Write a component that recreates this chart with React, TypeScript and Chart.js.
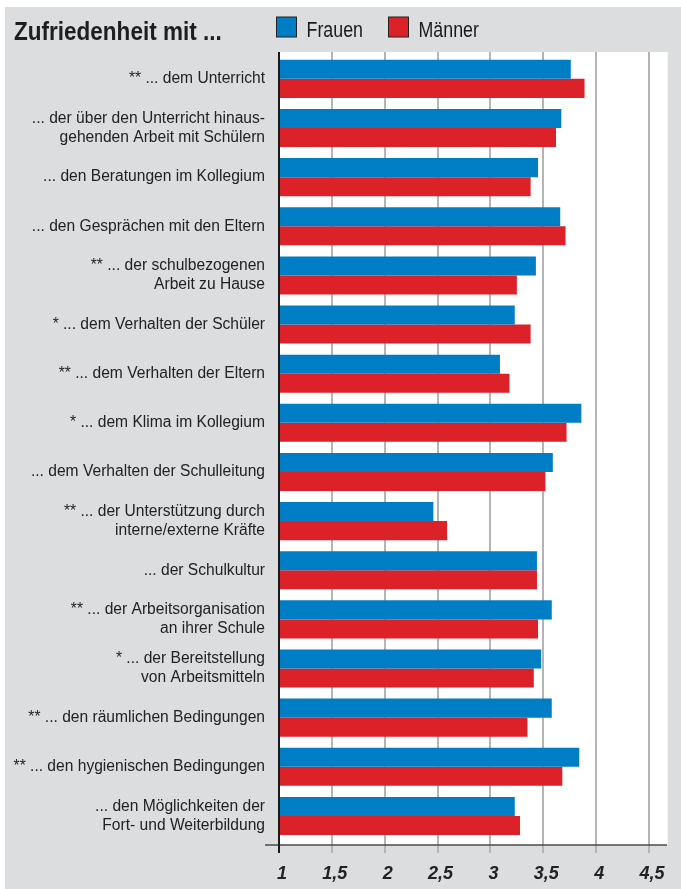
import { useEffect, useRef } from "react";
import { Chart, registerables } from "chart.js";

Chart.register(...registerables);

const TITLE = "Zufriedenheit mit ...";
const SERIES_NAMES = ["Frauen", "Männer"];
const SERIES_COLORS = ["#007ec5", "#dc2129"];

const categories: (string | string[])[] = [
  "** ... dem Unterricht",
  ["... der über den Unterricht hinaus-", "gehenden Arbeit mit Schülern"],
  "... den Beratungen im Kollegium",
  "... den Gesprächen mit den Eltern",
  ["** ... der schulbezogenen", "Arbeit zu Hause"],
  "* ... dem Verhalten der Schüler",
  "** ... dem Verhalten der Eltern",
  "* ... dem Klima im Kollegium",
  "... dem Verhalten der Schulleitung",
  ["** ... der Unterstützung durch", "interne/externe Kräfte"],
  "... der Schulkultur",
  ["** ... der Arbeitsorganisation", "an ihrer Schule"],
  ["* ... der Bereitstellung", "von Arbeitsmitteln"],
  "** ... den räumlichen Bedingungen",
  "** ... den hygienischen Bedingungen",
  ["... den Möglichkeiten der", "Fort- und Weiterbildung"],
];

const frauen = [3.76, 3.67, 3.45, 3.66, 3.43, 3.23, 3.09, 3.86, 3.59, 2.46, 3.44, 3.58, 3.48, 3.58, 3.84, 3.23];
const maenner = [3.89, 3.62, 3.38, 3.71, 3.25, 3.38, 3.18, 3.72, 3.52, 2.59, 3.44, 3.45, 3.41, 3.35, 3.68, 3.28];

const xTicks = [1, 1.5, 2, 2.5, 3, 3.5, 4, 4.5];
const X_MIN = 1;
const X_MAX = 4.67;

const FONT = "'Liberation Sans', Arial, sans-serif";

const decorPlugin = {
  id: "decor",
  beforeDraw(chart: any) {
    const { ctx, chartArea: ca, width, height } = chart;
    const plotTop = ca.top - 2.3;
    const plotBottom = ca.bottom + 4.5;
    ctx.save();
    ctx.fillStyle = "#ffffff";
    ctx.fillRect(0, 0, width, height);
    ctx.fillStyle = "#dcdddf";
    ctx.fillRect(5, 7, width - 5, height - 7);
    ctx.fillStyle = "#ffffff";
    ctx.fillRect(ca.left, plotTop, ca.right - ca.left + 0.7, plotBottom - plotTop);
    ctx.restore();
  },
  beforeDatasetsDraw(chart: any) {
    const { ctx, chartArea: ca } = chart;
    const xs = chart.scales.x;
    const plotTop = ca.top - 2.3;
    const plotBottom = ca.bottom + 4.5;
    ctx.save();
    ctx.strokeStyle = "#b4b4b4";
    ctx.lineWidth = 2;
    xs.ticks.forEach((t: any) => {
      const x = Math.round(xs.getPixelForValue(t.value));
      ctx.beginPath();
      ctx.moveTo(x, plotTop);
      ctx.lineTo(x, plotBottom + 8);
      ctx.stroke();
    });
    ctx.restore();
  },
  afterDatasetsDraw(chart: any) {
    const { ctx, chartArea: ca } = chart;
    const xs = chart.scales.x;
    const plotTop = ca.top - 2.3;
    const plotBottom = ca.bottom + 4.5;
    const x0 = Math.round(xs.getPixelForValue(X_MIN));
    ctx.save();
    ctx.strokeStyle = "#4a4a4a";
    ctx.lineWidth = 1.5;
    ctx.beginPath();
    ctx.moveTo(ca.left - 14, plotBottom);
    ctx.lineTo(ca.right, plotBottom);
    ctx.stroke();
    ctx.strokeStyle = "#1a1a1a";
    ctx.lineWidth = 2;
    ctx.beginPath();
    ctx.moveTo(x0, plotTop);
    ctx.lineTo(x0, plotBottom + 8);
    ctx.stroke();
    ctx.restore();
  },
  afterDraw(chart: any) {
    const { ctx } = chart;
    ctx.save();
    ctx.fillStyle = "#1e1e1e";
    ctx.textBaseline = "alphabetic";
    ctx.textAlign = "left";
    // Title
    ctx.save();
    ctx.translate(14, 40);
    ctx.scale(0.85, 1);
    ctx.font = `bold 26.5px ${FONT}`;
    ctx.fillText(TITLE, 0, 0);
    ctx.restore();
    // Legend
    const items = chart.data.datasets.map((d: any) => ({ label: d.label, color: d.backgroundColor }));
    const boxX = [276.5, 388.5];
    items.forEach((it: any, i: number) => {
      const bx = boxX[i];
      ctx.fillStyle = it.color;
      ctx.fillRect(bx, 17, 20, 20);
      ctx.strokeStyle = "#222";
      ctx.lineWidth = 1;
      ctx.strokeRect(bx, 17, 20, 20);
      ctx.save();
      ctx.translate(bx + 30, 36.7);
      ctx.scale(0.81, 1);
      ctx.fillStyle = "#1a1a1a";
      ctx.font = `22px ${FONT}`;
      ctx.fillText(it.label, 0, 0);
      ctx.restore();
    });
    ctx.restore();
  },
};

export default function App() {
  const ref = useRef<HTMLCanvasElement | null>(null);
  useEffect(() => {
    if (!ref.current) return;
    const chart = new Chart(ref.current, {
      type: "bar",
      data: {
        labels: categories,
        datasets: [
          {
            label: SERIES_NAMES[0],
            data: frauen,
            backgroundColor: SERIES_COLORS[0],
            borderWidth: 0,
            barPercentage: 1,
            categoryPercentage: 0.775,
          },
          {
            label: SERIES_NAMES[1],
            data: maenner,
            backgroundColor: SERIES_COLORS[1],
            borderWidth: 0,
            barPercentage: 1,
            categoryPercentage: 0.775,
          },
        ],
      },
      options: {
        indexAxis: "y",
        animation: false,
        responsive: false,
        devicePixelRatio: 1,
        layout: { padding: { top: 54.3, right: 14, left: 0, bottom: 0 } },
        plugins: {
          legend: { display: false },
          tooltip: { enabled: false },
          title: { display: false },
        },
        scales: {
          x: {
            type: "linear",
            min: X_MIN,
            max: X_MAX,
            afterBuildTicks: (s: any) => {
              s.ticks = xTicks.map((v) => ({ value: v }));
            },
            ticks: {
              font: { family: FONT, size: 18, weight: "bold", style: "italic" },
              color: "#222",
              padding: 23,
              labelOffset: 3,
              maxRotation: 0,
              autoSkip: false,
              callback: (v: any) => String(v).replace(".", ","),
            },
            grid: { display: false, drawTicks: false },
            border: { display: false },
            afterFit: (s: any) => {
              s.height = 48.5;
              s.paddingLeft = 0;
              s.paddingRight = 0;
            },
          },
          y: {
            type: "category",
            ticks: {
              font: { family: FONT, size: 15.6, lineHeight: 1.22 },
              color: "#222",
              padding: 14,
              autoSkip: false,
            },
            grid: { display: false, drawTicks: false },
            border: { display: false },
            afterFit: (s: any) => {
              s.width = 279;
              s.paddingTop = 0;
              s.paddingBottom = 0;
            },
          },
        },
      } as any,
      plugins: [decorPlugin],
    });
    return () => chart.destroy();
  }, []);
  return (
    <div style={{ position: "absolute", left: 0, top: 0, width: 681, height: 889 }}>
      <canvas ref={ref} width={681} height={889} style={{ display: "block" }} />
    </div>
  );
}
